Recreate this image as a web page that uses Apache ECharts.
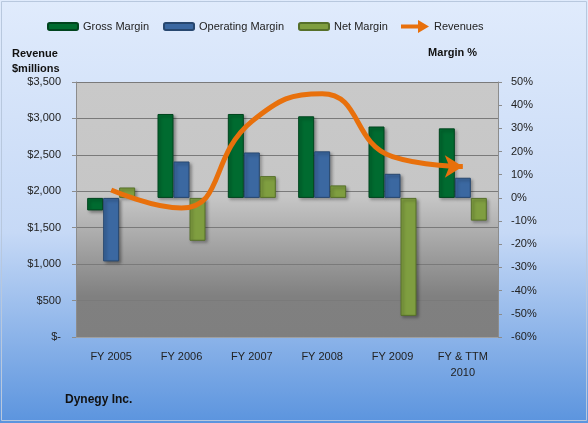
<!DOCTYPE html>
<html>
<head>
<meta charset="utf-8">
<script src="https://cdn.jsdelivr.net/npm/echarts@6/dist/echarts.min.js"></script>
<style>html,body{margin:0;padding:0;}#chart{width:588px;height:423px;}</style>
</head>
<body>
<div id="chart"></div>
<script>
const categories = ['FY 2005', 'FY 2006', 'FY 2007', 'FY 2008', 'FY 2009', 'FY & TTM\n2010'];
const grossMargin = [-5.4, 36.2, 36.2, 35.2, 30.8, 30.0];
const operatingMargin = [-27.4, 15.7, 19.6, 20.1, 10.4, 8.7];
const netMargin = [4.5, -18.5, 9.4, 5.4, -50.9, -9.8];
const revenues = [2018, 1770, 2960, 3340, 2475, 2340];
const revenueTickLabels = ['$-', '$500', '$1,000', '$1,500', '$2,000', '$2,500', '$3,000', '$3,500'];
const marginTickLabels = ['-60%', '-50%', '-40%', '-30%', '-20%', '-10%', '0%', '10%', '20%', '30%', '40%', '50%'];

const FONT = 'Liberation Sans';
const chart = echarts.init(document.getElementById('chart'), null, {renderer: 'canvas'});

function barSeries(name, data, color, border) {
  return {
    name: name, type: 'bar', yAxisIndex: 1, data: data,
    barWidth: 16, barGap: '0%',
    itemStyle: {
      color: color, borderColor: border, borderWidth: 1,
      shadowBlur: 3, shadowOffsetX: 2, shadowOffsetY: 2, shadowColor: 'rgba(0,0,0,0.35)'
    }
  };
}

const lastIdx = revenues.length - 1;
const option = {
  backgroundColor: {
    type: 'linear', x: 0, y: 0, x2: 0, y2: 1,
    colorStops: [
      {offset: 0, color: '#e0ebfc'},
      {offset: 0.55, color: '#c6d9f6'},
      {offset: 1, color: '#5b94de'}
    ]
  },
  textStyle: {fontFamily: FONT},
  animation: false,
  title: {
    text: 'Dynegy Inc.', left: 60, top: 389,
    textStyle: {fontFamily: FONT, fontSize: 12, fontWeight: 'bold', color: '#111'}
  },
  graphic: [{
    type: 'rect', shape: {x: 1.5, y: 1.5, width: 585, height: 419},
    style: {fill: 'none', stroke: '#b8c8de', lineWidth: 1}, silent: true
  }],
  legend: [{
    left: 42, top: 16, itemWidth: 30, itemHeight: 7, itemGap: 14,
    data: ['Gross Margin', 'Operating Margin', 'Net Margin'],
    textStyle: {fontFamily: FONT, fontSize: 11, color: '#222'}
  }, {
    left: 396, top: 15, itemWidth: 28, itemHeight: 13,
    data: [{name: 'Revenues', icon: 'path://M0,4.5 L17,4.5 L17,0 L28,6.5 L17,13 L17,8.5 L0,8.5 Z'}],
    textStyle: {fontFamily: FONT, fontSize: 11, color: '#222'}
  }],
  grid: {
    left: 76, right: 90, top: 82, bottom: 86, show: true, borderWidth: 0,
    backgroundColor: {
      type: 'linear', x: 0, y: 0, x2: 0, y2: 1,
      colorStops: [
        {offset: 0, color: '#c9c9c9'},
        {offset: 0.45, color: '#c6c6c6'},
        {offset: 0.84, color: '#808080'},
        {offset: 1, color: '#7f7f7f'}
      ]
    }
  },
  xAxis: {
    type: 'category', data: categories,
    axisLine: {onZero: false, lineStyle: {color: '#a0a0a0'}},
    axisTick: {inside: true, length: 4, lineStyle: {color: '#a8a8a8'}},
    axisLabel: {fontFamily: FONT, fontSize: 11, color: '#222', margin: 12, lineHeight: 16}
  },
  yAxis: [{
    type: 'value', min: 0, max: 3500, interval: 500, position: 'left',
    name: 'Revenue\n$millions', nameLocation: 'end', nameGap: 6,
    nameTextStyle: {fontFamily: FONT, fontSize: 11, fontWeight: 'bold', color: '#111', align: 'left', lineHeight: 15, padding: [0, 0, 0, -64]},
    axisLine: {show: true, lineStyle: {color: '#8c8c8c'}},
    axisTick: {show: true, length: 4, lineStyle: {color: '#8c8c8c'}},
    axisLabel: {fontFamily: FONT, fontSize: 11, color: '#222', margin: 15,
      formatter: function (v) { return revenueTickLabels[Math.round(v / 500)]; }},
    splitLine: {show: true, lineStyle: {color: '#7a7a7a', width: 1}}
  }, {
    type: 'value', min: -60, max: 50, interval: 10, position: 'right',
    name: 'Margin %', nameLocation: 'end', nameGap: 24,
    nameTextStyle: {fontFamily: FONT, fontSize: 11, fontWeight: 'bold', color: '#111', align: 'right', padding: [0, 21, 0, 0]},
    axisLine: {show: true, lineStyle: {color: '#8c8c8c'}},
    axisTick: {show: true, length: 4, lineStyle: {color: '#8c8c8c'}},
    axisLabel: {fontFamily: FONT, fontSize: 11, color: '#222', margin: 13,
      formatter: function (v) { return marginTickLabels[Math.round((v + 60) / 10)]; }},
    splitLine: {show: false}
  }],
  series: [
    barSeries('Gross Margin', grossMargin, '#006b30', '#00441e'),
    barSeries('Operating Margin', operatingMargin, '#3b68a1', '#27476f'),
    barSeries('Net Margin', netMargin, '#7f9e40', '#56702a'),
    {
      name: 'Revenues', type: 'line', yAxisIndex: 0, smooth: 0.5, z: 5,
      symbol: 'none',
      lineStyle: {color: '#e8700c', width: 5},
      itemStyle: {color: '#e8700c'},
      data: revenues.map(function (v, i) {
        return i === lastIdx
          ? {value: v, symbol: 'arrow', symbolSize: [17, 18], symbolRotate: -90}
          : v;
      })
    }
  ]
};
chart.setOption(option);
</script>
</body>
</html>
